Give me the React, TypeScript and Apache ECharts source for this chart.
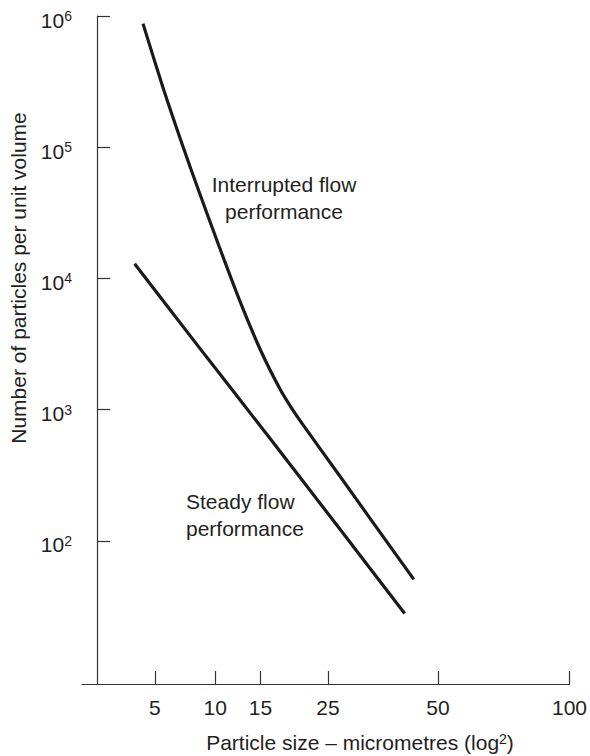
import React, { useEffect, useRef } from "react";
import * as echarts from "echarts";

// Particle size (micrometres) and number of particles per unit volume
const sizeInterrupted = [4.2, 5.57, 7.1, 8.52, 10.39, 12.67, 15.03, 17.63, 19.27, 20.76, 26.9, 33.47, 43.41];
const countInterrupted = [875000, 287400, 102500, 45170, 17520, 6480, 2827, 1411, 1015, 787, 322, 143, 50.9];
const sizeSteady = [3.66, 8.5, 16.1, 26.9, 41.1];
const countSteady = [12960, 2985, 616, 127, 28];

const xTickLabels = [5, 10, 15, 25, 50, 100];
const yTickExponents = [2, 3, 4, 5, 6];

const FONT = "'Liberation Sans', Arial, Helvetica, sans-serif";
const INK = "#231f20";

// x axis scale: (log10 size)^2 ; y axis scale: log10 count
const toX = (s: number) => Math.pow(Math.log10(s), 2);
const toY = (c: number) => Math.log10(c);

export default function App() {
  const ref = useRef<HTMLDivElement>(null);
  useEffect(() => {
    if (!ref.current) return;
    const chart = echarts.init(ref.current, null, { renderer: "svg" });
    const interrupted = sizeInterrupted.map((s, i) => [toX(s), toY(countInterrupted[i])]);
    const steady = sizeSteady.map((s, i) => [toX(s), toY(countSteady[i])]);
    const xTicks = xTickLabels.map(toX);
    chart.setOption({
      animation: false,
      backgroundColor: "#ffffff",
      grid: { left: 82, right: 18, top: 16, bottom: 72 },
      xAxis: {
        type: "value",
        min: -0.128,
        max: 4,
        axisLine: { show: true, lineStyle: { color: "#333", width: 1.2 } },
        axisTick: {
          show: true,
          inside: true,
          length: 13,
          customValues: xTicks,
          lineStyle: { color: "#333", width: 1.2 },
        },
        axisLabel: {
          customValues: xTicks,
          formatter: (v: number) => String(Math.round(Math.pow(10, Math.sqrt(v)))),
          margin: 13,
          color: INK,
          fontSize: 21,
          fontFamily: FONT,
        },
        splitLine: { show: false },
      },
      yAxis: {
        type: "value",
        min: 0.91,
        max: 6,
        axisLine: { show: true, lineStyle: { color: "#333", width: 1.2 } },
        axisTick: {
          show: true,
          inside: true,
          length: 13,
          customValues: yTickExponents,
          lineStyle: { color: "#333", width: 1.2 },
        },
        axisLabel: {
          customValues: yTickExponents,
          formatter: (v: number) => "10{sup|" + Math.round(v) + "}",
          margin: 10,
          color: INK,
          fontSize: 21,
          fontFamily: FONT,
          lineHeight: 22,
          padding: [8, 0, 0, 0],
          rich: {
            sup: { fontSize: 14, fontFamily: FONT, color: INK, verticalAlign: "top", lineHeight: 14 },
          },
        },
        splitLine: { show: false },
      },
      graphic: [
        {
          type: "text",
          x: 18,
          y: 278,
          rotation: Math.PI / 2,
          style: {
            text: "Number of particles per unit volume",
            fill: INK,
            font: `21px ${FONT}`,
            align: "center",
            verticalAlign: "middle",
          },
        },
        {
          type: "text",
          x: 360,
          y: 742,
          style: {
            text: "Particle size – micrometres (log{sup|2})",
            fill: INK,
            font: `21px ${FONT}`,
            align: "center",
            verticalAlign: "middle",
            rich: {
              sup: { fontSize: 14, fontFamily: FONT, fill: INK, verticalAlign: "top", lineHeight: 14 },
            },
          },
        },
        {
          type: "text",
          x: 284,
          y: 198,
          style: {
            text: "Interrupted flow\nperformance",
            fill: INK,
            font: `21px ${FONT}`,
            lineHeight: 27,
            align: "center",
            verticalAlign: "middle",
          },
        },
        {
          type: "text",
          x: 186,
          y: 515,
          style: {
            text: "Steady flow\nperformance",
            fill: INK,
            font: `21px ${FONT}`,
            lineHeight: 27,
            align: "left",
            verticalAlign: "middle",
          },
        },
      ],
      series: [
        {
          name: "Interrupted flow performance",
          type: "line",
          data: interrupted,
          showSymbol: false,
          smooth: 0.25,
          lineStyle: { color: "#1a1a1a", width: 3.2 },
        },
        {
          name: "Steady flow performance",
          type: "line",
          data: steady,
          showSymbol: false,
          smooth: 0.2,
          lineStyle: { color: "#1a1a1a", width: 3.2 },
        },
      ],
    });
    return () => chart.dispose();
  }, []);
  return (
    <div
      ref={ref}
      style={{ position: "fixed", left: 0, top: 0, width: 590, height: 756, background: "#fff" }}
    />
  );
}
